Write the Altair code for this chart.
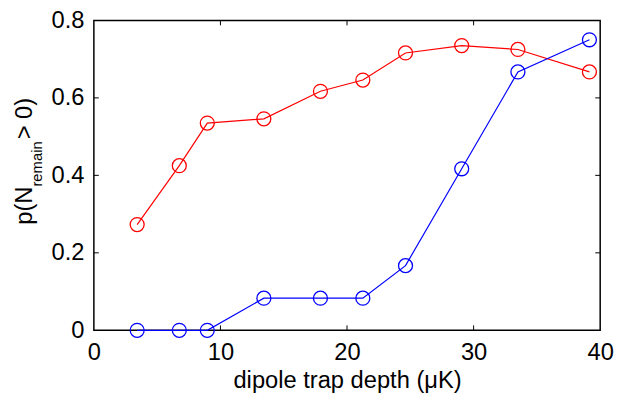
import altair as alt
import pandas as pd

# ---- data ----
depth = [3.42, 6.75, 8.96, 13.43, 17.9, 21.25, 24.62, 29.06, 33.5, 39.15]
red_p = [0.273, 0.425, 0.535, 0.546, 0.617, 0.646, 0.716, 0.735, 0.725, 0.667]
blue_p = [0.0, 0.0, 0.0, 0.083, 0.083, 0.083, 0.167, 0.417, 0.667, 0.75]
series_names = ["red", "blue"]
series_colors = ["#ff0000", "#0000ff"]
x_ticks = [0, 10, 20, 30, 40]
y_ticks = [0, 0.2, 0.4, 0.6, 0.8]
x_title = "dipole trap depth (μK)"
y_title_parts = ["p(N", "remain", " > 0)"]

FONT = "Liberation Sans"
W, H = 513, 314
TICK = 5

df = pd.DataFrame({
    "depth": depth * 2,
    "p": red_p + blue_p,
    "series": ["red"] * len(depth) + ["blue"] * len(depth),
})

xscale = alt.Scale(domain=[x_ticks[0], x_ticks[-1]], nice=False, zero=False)
yscale = alt.Scale(domain=[y_ticks[0], y_ticks[-1]], nice=False, zero=False)

x_axis = alt.Axis(values=x_ticks, ticks=False, tickSize=0, domain=False, grid=False,
                  labelFont=FONT, labelFontSize=24, labelColor="black",
                  labelPadding=11, labelFlush=False, labelOverlap=False,
                  title=x_title, titleFont=FONT, titleFontSize=24,
                  titleFontWeight="normal", titleColor="black", titlePadding=4)
y_axis = alt.Axis(values=y_ticks, ticks=False, tickSize=0, domain=False, grid=False,
                  format="~g", labelFont=FONT, labelFontSize=24, labelColor="black",
                  labelPadding=10, labelFlush=False, labelOverlap=False, title=None)

x_enc = alt.X("depth:Q", scale=xscale, axis=x_axis)
y_enc = alt.Y("p:Q", scale=yscale, axis=y_axis)
color = alt.Color("series:N", scale=alt.Scale(domain=series_names, range=series_colors),
                  legend=None)

base = alt.Chart(df).encode(x=x_enc, y=y_enc, color=color)
lines = base.mark_line(strokeWidth=1.2)
points = base.mark_point(shape="circle", filled=False, size=200, strokeWidth=1.3, opacity=1)

# inward ticks on all four sides (MATLAB box style)
xt = pd.DataFrame({"depth": x_ticks[1:-1]})
yt = pd.DataFrame({"p": y_ticks[1:-1]})
tick_bottom = alt.Chart(xt).mark_rule(color="black", strokeWidth=1).encode(
    x=x_enc, y=alt.value(H), y2=alt.value(H - TICK))
tick_top = alt.Chart(xt).mark_rule(color="black", strokeWidth=1).encode(
    x=x_enc, y=alt.value(0), y2=alt.value(TICK))
tick_left = alt.Chart(yt).mark_rule(color="black", strokeWidth=1).encode(
    y=y_enc, x=alt.value(0), x2=alt.value(TICK))
tick_right = alt.Chart(yt).mark_rule(color="black", strokeWidth=1).encode(
    y=y_enc, x=alt.value(W), x2=alt.value(W - TICK))

# y-axis title with subscript, built from text pieces
one = pd.DataFrame({"k": [0]})
main_size, sub_size = 24, 15
y0 = 207
w_main = 1.611 * main_size
w_sub = 3.056 * sub_size + 2
t1 = alt.Chart(one).mark_text(text=y_title_parts[0], angle=270, align="left",
                              baseline="alphabetic", font=FONT, fontSize=main_size,
                              color="black").encode(x=alt.value(-63), y=alt.value(y0))
t2 = alt.Chart(one).mark_text(text=y_title_parts[1], angle=270, align="left",
                              baseline="alphabetic", font=FONT, fontSize=sub_size,
                              color="black").encode(x=alt.value(-53), y=alt.value(y0 - w_main))
t3 = alt.Chart(one).mark_text(text=y_title_parts[2], angle=270, align="left",
                              baseline="alphabetic", font=FONT, fontSize=main_size,
                              color="black").encode(x=alt.value(-63),
                                                    y=alt.value(y0 - w_main - w_sub))

chart = alt.layer(tick_bottom, tick_top, tick_left, tick_right,
                  lines, points, t1, t2, t3).properties(
    width=W, height=H,
    autosize=alt.AutoSizeParams(type="none"),
    padding={"left": 87, "top": 10, "right": 14, "bottom": 66},
).configure_view(stroke="black", strokeWidth=1.5)

chart.save("out.html", embed_options={"renderer": "svg", "actions": False})
